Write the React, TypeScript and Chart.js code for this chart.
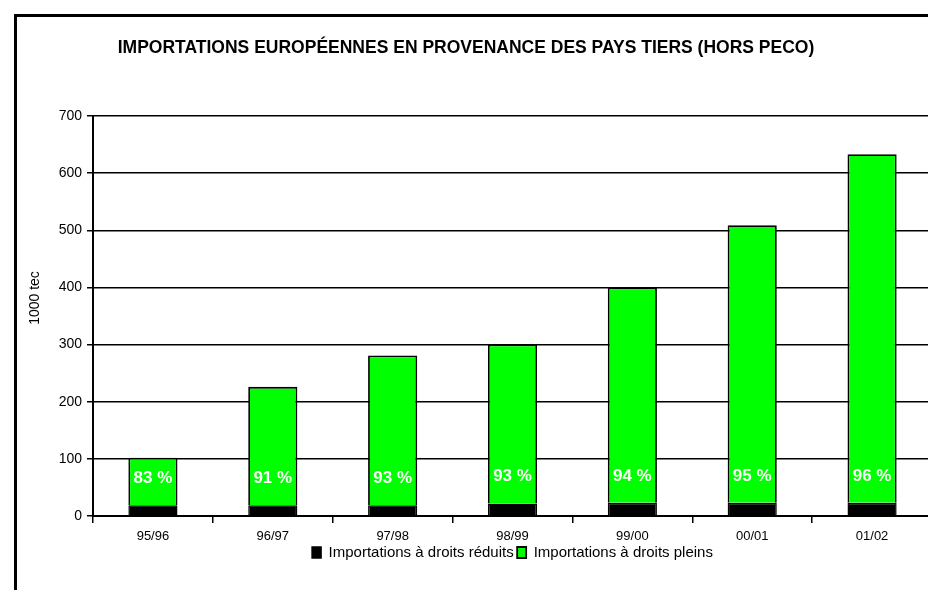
import React, { useEffect, useRef } from "react";
import { Chart, registerables } from "chart.js";

Chart.register(...registerables);

// ---- Data ----
const categories = ["95/96", "96/97", "97/98", "98/99", "99/00", "00/01", "01/02"];
const reducedDuty = [19, 19, 19, 22, 23, 23, 23];
const fullDuty = [83, 207, 262, 278, 377, 486, 610];
const shareLabels = ["83 %", "91 %", "93 %", "93 %", "94 %", "95 %", "96 %"];
const seriesNames = ["Importations à droits réduits", "Importations à droits pleins"];
const chartTitle = "IMPORTATIONS EUROPÉENNES EN PROVENANCE DES PAYS TIERS (HORS PECO)";
const yAxisTitle = "1000 tec";
const yMin = 0;
const yMax = 700;
const yStep = 100;

const FONT = "'Liberation Sans', Arial, Helvetica, sans-serif";

const decorPlugin = {
  id: "decor",
  beforeDraw(chart: any) {
    const ctx = chart.ctx;
    ctx.save();
    ctx.fillStyle = "#ffffff";
    ctx.fillRect(0, 0, chart.width, chart.height);
    ctx.strokeStyle = "#000000";
    ctx.lineWidth = 3;
    ctx.strokeRect(15.5, 15.5, 3000, 3000);
    ctx.restore();
  },
  afterDatasetsDraw(chart: any) {
    const ctx = chart.ctx;
    const meta = chart.getDatasetMeta(1);
    ctx.save();
    ctx.fillStyle = "#ffffff";
    ctx.font = `bold 17px ${FONT}`;
    ctx.textAlign = "center";
    ctx.textBaseline = "middle";
    meta.data.forEach((el: any, i: number) => {
      ctx.fillText(shareLabels[i], el.x, el.base - 27);
    });
    ctx.restore();
  },
  afterDraw(chart: any) {
    const ctx = chart.ctx;
    ctx.save();
    ctx.fillStyle = "#000000";
    ctx.font = `14px ${FONT}`;
    ctx.textAlign = "center";
    ctx.textBaseline = "middle";
    ctx.translate(35, 298);
    ctx.rotate(-Math.PI / 2);
    ctx.fillText(yAxisTitle, 0, 0);
    ctx.restore();
  },
};

export default function App() {
  const canvasRef = useRef<HTMLCanvasElement | null>(null);

  useEffect(() => {
    if (!canvasRef.current) return;
    const chart = new Chart(canvasRef.current, {
      type: "bar",
      data: {
        labels: categories,
        datasets: [
          {
            label: seriesNames[0],
            data: reducedDuty,
            backgroundColor: "#000000",
            borderColor: "#000000",
            borderWidth: 1.5,
            stack: "s",
          },
          {
            label: seriesNames[1],
            data: fullDuty,
            backgroundColor: "#00ff00",
            borderColor: "#000000",
            borderWidth: 1.8,
            stack: "s",
          },
        ],
      },
      options: {
        responsive: false,
        animation: false,
        devicePixelRatio: 1,
        datasets: { bar: { barPercentage: 0.41, categoryPercentage: 1 } },
        layout: { padding: { left: 0, right: 8, top: 0, bottom: 20 } },
        plugins: {
          title: {
            display: true,
            text: chartTitle,
            color: "#000000",
            font: { family: FONT, size: 17.5, weight: "bold", lineHeight: 1.2 },
            padding: { top: 37.5, bottom: 57.5 },
          },
          legend: {
            display: true,
            position: "bottom",
            fullSize: false,
            labels: {
              color: "#000000",
              boxWidth: 9,
              boxHeight: 11,
              padding: 3.5,
              font: { family: FONT, size: 15 },
            },
          },
          tooltip: { enabled: false },
        },
        scales: {
          x: {
            stacked: true,
            grid: {
              display: true,
              drawOnChartArea: false,
              drawTicks: true,
              tickLength: 7,
              color: "#000000",
              lineWidth: 1.5,
              offset: true,
            },
            border: { display: true, color: "#000000", width: 2 },
            ticks: {
              color: "#000000",
              font: { family: FONT, size: 13 },
              padding: 6,
              maxRotation: 0,
              autoSkip: false,
            },
            afterFit: (s: any) => {
              s.height = 25.5;
            },
          },
          y: {
            stacked: true,
            min: yMin,
            max: yMax,
            ticks: {
              stepSize: yStep,
              color: "#000000",
              font: { family: FONT, size: 14 },
              padding: 5,
            },
            grid: { color: "#000000", lineWidth: 1.5, tickLength: 6 },
            border: { display: true, color: "#000000", width: 2 },
            afterFit: (s: any) => {
              s.width = 93;
            },
          },
        },
      },
      plugins: [decorPlugin],
    });
    return () => chart.destroy();
  }, []);

  return (
    <div
      style={{
        position: "fixed",
        left: 0,
        top: 0,
        width: 928,
        height: 590,
        overflow: "hidden",
        background: "#fff",
      }}
    >
      <canvas ref={canvasRef} width={940} height={590} style={{ display: "block" }} />
    </div>
  );
}
